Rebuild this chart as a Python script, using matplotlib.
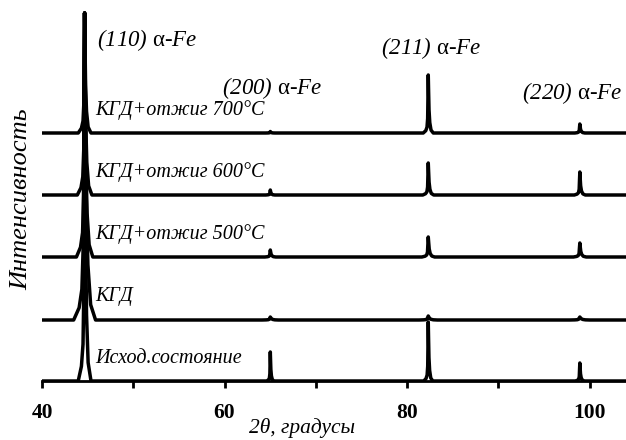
import numpy as np
import matplotlib.pyplot as plt

plt.rcParams['font.family'] = 'Liberation Serif'
plt.rcParams['mathtext.fontset'] = 'custom'
plt.rcParams['mathtext.rm'] = 'Liberation Serif'
plt.rcParams['mathtext.it'] = 'Liberation Serif:italic'

# peak positions, 2theta (deg)
centers = [44.67, 65.02, 82.33, 98.94]
peak_names = ['(110)', '(200)', '(211)', '(220)']

# samples from bottom to top
samples = ['Исход.состояние', 'КГД', 'КГД+отжиг 500°C', 'КГД+отжиг 600°C', 'КГД+отжиг 700°C']
offsets = [0, 61, 124, 186, 248]

# peak heights above own baseline (arb. units)
heights = [
    [368, 29, 59, 18],
    [307, 3, 4, 3],
    [244, 7, 20, 14],
    [182, 5, 32, 23],
    [120, 1.5, 58, 9],
]
# half width of peak foot (deg)
widths = [
    [0.7, 0.4, 0.5, 0.5],
    [1.2, 0.9, 1.0, 1.1],
    [0.9, 0.6, 0.7, 0.7],
    [0.8, 0.5, 0.6, 0.6],
    [0.7, 0.5, 0.55, 0.55],
]

# profile shape of a peak (fraction of width, fraction of height), Ka2 shoulder on the right
shape_dx = [-1.0, -0.5, -0.25, -0.12, -0.05, 0.0, 0.06, 0.15, 0.3, 0.55, 1.0]
shape_dy = [0.0, 0.04, 0.1, 0.25, 0.7, 1.0, 0.75, 0.4, 0.18, 0.05, 0.0]

fig = plt.figure(figsize=(6.26, 4.40), dpi=100)
ax = fig.add_axes([42/626, 59/440, 1 - 42/626, 381/440])

for i in range(len(samples)):
    xs = [40.0]
    ys = [offsets[i]]
    for c, h, w in zip(centers, heights[i], widths[i]):
        for dx, dy in zip(shape_dx, shape_dy):
            xs.append(c + dx*w)
            ys.append(offsets[i] + dy*h)
    xs.append(104.5)
    ys.append(offsets[i])
    ax.plot(xs, ys, color='black', lw=2.5, solid_joinstyle='round')
    ax.text(45.8, offsets[i] + 23, samples[i], fontsize=14.5, style='italic', va='center', ha='left')

peak_lbl_x = [46.0, 59.7, 77.1, 92.6]
peak_lbl_y = [341, 293, 333, 288]
for name, lx, ly in zip(peak_names, peak_lbl_x, peak_lbl_y):
    ax.text(lx, ly, name + r' $\mathrm{α}$-Fe', fontsize=16.5, style='italic', va='center', ha='left')

ax.set_xlim(40, 104)
ax.set_ylim(0, 381)
for s in ['left', 'right', 'top']:
    ax.spines[s].set_visible(False)
ax.spines['bottom'].set_linewidth(2)
ax.set_yticks([])
ax.set_xticks([40, 60, 80, 100])
ax.set_xticks([50, 70, 90], minor=True)
ax.tick_params(axis='x', which='both', direction='out', length=5, width=2, pad=11)
for lbl in ax.get_xticklabels():
    lbl.set_fontweight('bold')
    lbl.set_fontsize(15.5)

fig.text(302/626, 1 - 428/440, '2θ, градусы', fontsize=15.5, style='italic', ha='center', va='center')
fig.text(21/626, 1 - 199/440, 'Интенсивность', fontsize=19, style='italic', ha='center', va='center', rotation=90)

fig.savefig('out.png', dpi=100)
